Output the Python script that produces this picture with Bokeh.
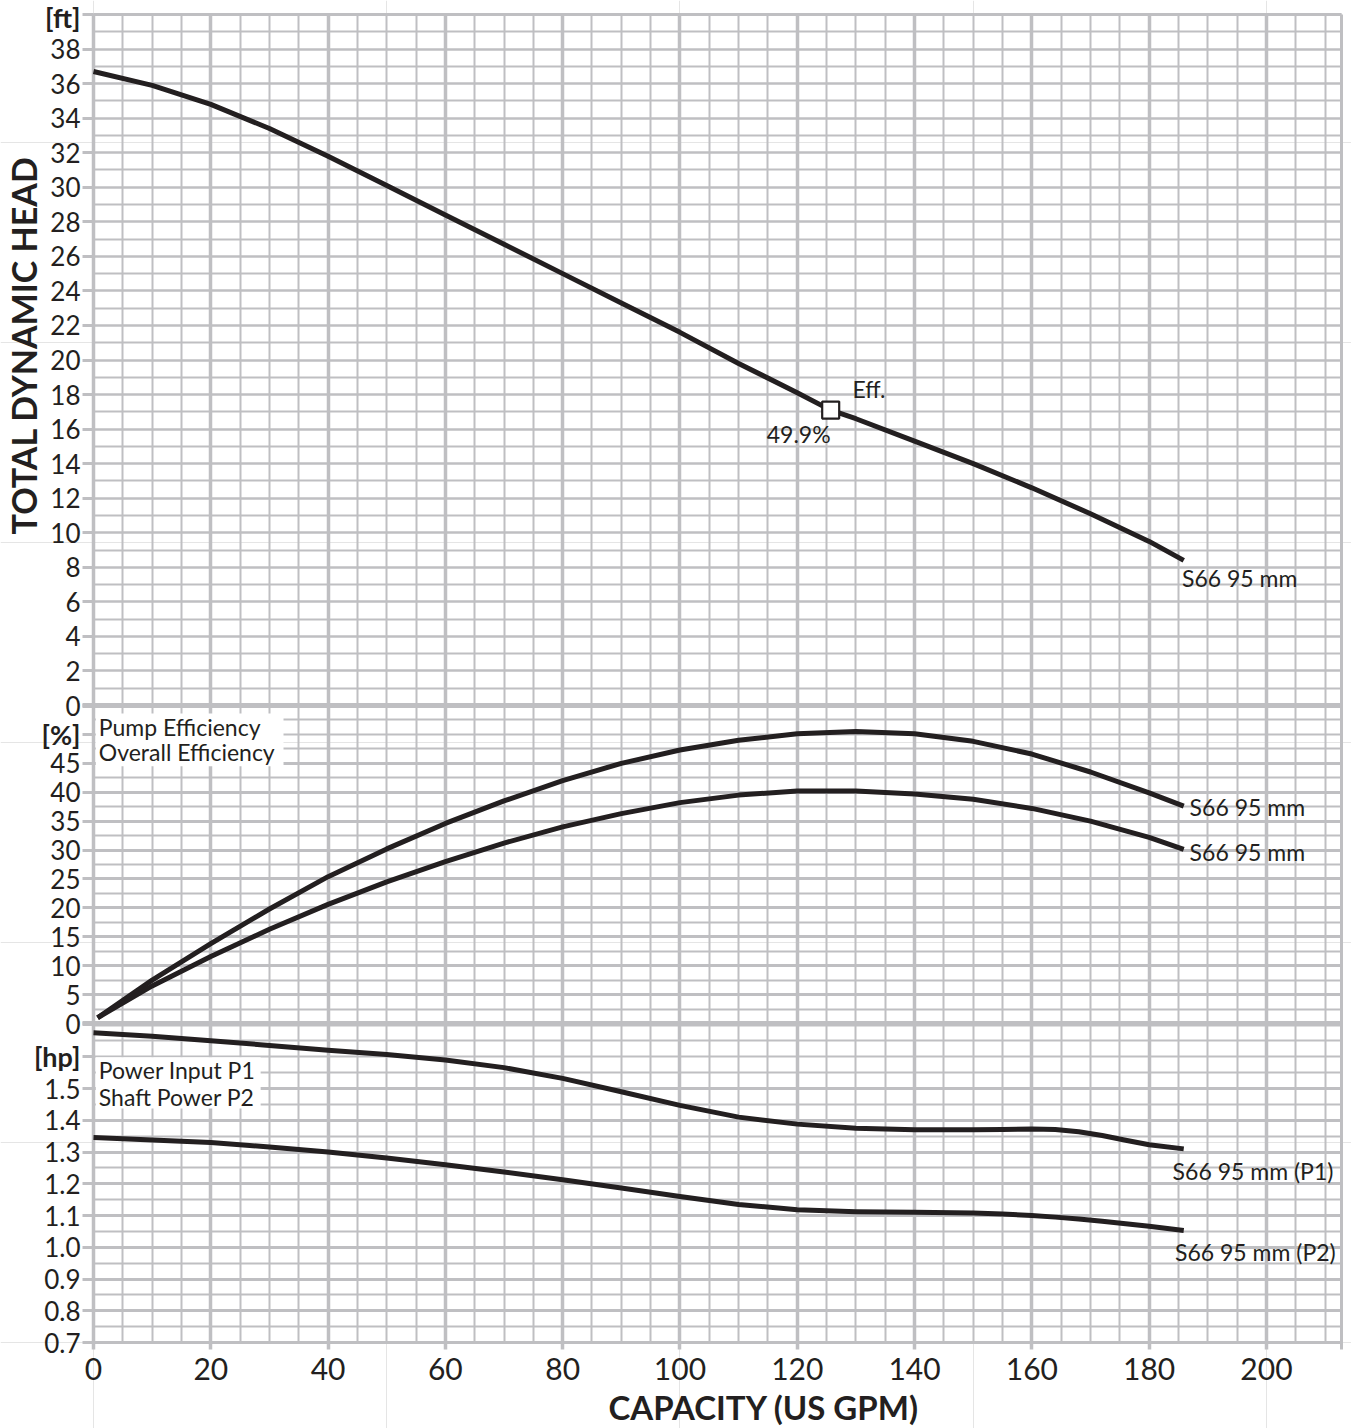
import math
from bokeh.plotting import figure
from bokeh.models import (Range1d, LinearAxis, FixedTicker, Grid, Label,
                          BoxAnnotation, CustomJSTickFormatter)
from bokeh.embed import file_html
from bokeh.resources import INLINE

# ---------------- data ----------------
q_head = [0, 10, 20, 30, 40, 50, 60, 70, 80, 90, 100, 110, 120, 125.7, 130, 140, 150, 160, 170, 180, 185.9]
head_ft = [36.7, 35.9, 34.8, 33.4, 31.8, 30.1, 28.4, 26.7, 25.0, 23.3, 21.6, 19.8, 18.1, 17.1, 16.6, 15.3, 14.0, 12.6, 11.1, 9.5, 8.4]

q_eff = [0.7, 10, 20, 30, 40, 50, 60, 70, 80, 90, 100, 110, 120, 130, 140, 150, 160, 170, 180, 185.9]
eff_pump = [1.0, 7.5, 13.8, 19.8, 25.4, 30.2, 34.6, 38.5, 42.0, 45.0, 47.3, 49.0, 50.1, 50.5, 50.1, 48.8, 46.6, 43.5, 39.9, 37.6]
eff_overall = [1.0, 6.5, 11.6, 16.3, 20.6, 24.5, 28.0, 31.2, 34.0, 36.3, 38.2, 39.5, 40.2, 40.2, 39.7, 38.8, 37.2, 35.0, 32.2, 30.1]

q_pow = [0, 10, 20, 30, 40, 50, 60, 70, 80, 90, 100, 110, 120, 130, 140, 150, 155, 160, 164, 168, 172, 176, 180, 185.9]
power_p1 = [1.676, 1.665, 1.651, 1.636, 1.621, 1.607, 1.590, 1.566, 1.532, 1.490, 1.447, 1.410, 1.388, 1.375, 1.370, 1.370, 1.371, 1.373, 1.371, 1.364, 1.352, 1.337, 1.323, 1.310]
power_p2 = [1.346, 1.338, 1.330, 1.316, 1.300, 1.281, 1.260, 1.237, 1.213, 1.187, 1.160, 1.135, 1.118, 1.112, 1.110, 1.108, 1.105, 1.100, 1.095, 1.089, 1.082, 1.074, 1.066, 1.053]

bep_q = [125.7]
bep_head = [17.1]
bep_text = "49.9%"

x_ticks = [0, 20, 40, 60, 80, 100, 120, 140, 160, 180, 200]
x_minor = [v * 5 for v in range(0, 43)]
ft_ticks = list(range(0, 39, 2))
ft_minor = list(range(0, 41))
pct_ticks = list(range(0, 46, 5))
pct_minor = [v * 2.5 for v in range(0, 23)]
hp_ticks = [0.7, 0.8, 0.9, 1.0, 1.1, 1.2, 1.3, 1.4, 1.5]
hp_minor = [round(0.7 + 0.05 * v, 2) for v in range(0, 21)]
hp_labels = ["0.7", "0.8", "0.9", "1.0", "1.1", "1.2", "1.3", "1.4", "1.5"]
unit_labels = ["[ft]", "[%]", "[hp]"]
unit_values = [40, 50, 1.6]
x_title = "CAPACITY (US GPM)"
y_title = "TOTAL DYNAMIC HEAD"

FT_RANGE = (0.0, 40.0)
PCT_RANGE = (0.0, 55.0)
HP_RANGE = (0.7, 1.705)
X_MAX = 212.8

# ---------------- layout ----------------
H_TOP, H_MID, H_BOT = 691, 318, 319      # panel heights, px
PLOT_H = H_TOP + H_MID + H_BOT
PLOT_W = 1248
LEFT_PX, RIGHT_PX, TOP_PX, BOTTOM_PX = 93, 10, 14, 86   # room inside the frame for axis texts
XPP = X_MAX / PLOT_W
GREY = "#bfbfc2"
INK = "#231f20"
FONT = "Lato"
X_SPAN = (0, X_MAX)


def ext_range(rng, below_px, h_px, above_px):
    per = (rng[1] - rng[0]) / h_px
    return Range1d(rng[0] - below_px * per, rng[1] + above_px * per)


def to_main(v, rng, base, h):
    return base + (v - rng[0]) / (rng[1] - rng[0]) * h


def lookup_formatter(pos, labs):
    return CustomJSTickFormatter(args=dict(pos=pos, labs=labs), code="""
    for (let i = 0; i < pos.length; i++) { if (Math.abs(pos[i] - tick) < 1e-6) return labs[i]; }
    return "";
""")


p = figure(frame_width=LEFT_PX + PLOT_W + RIGHT_PX, frame_height=TOP_PX + PLOT_H + BOTTOM_PX,
           x_range=Range1d(-LEFT_PX * XPP, X_MAX + RIGHT_PX * XPP),
           y_range=Range1d(-BOTTOM_PX, PLOT_H + TOP_PX),
           x_axis_location=None, y_axis_location=None,
           output_backend="svg", toolbar_location=None,
           min_border_left=0, min_border_right=0, min_border_top=0, min_border_bottom=0)
p.extra_y_ranges = {
    "ft": ext_range(FT_RANGE, BOTTOM_PX + H_BOT + H_MID, H_TOP, TOP_PX),
    "pct": ext_range(PCT_RANGE, BOTTOM_PX + H_BOT, H_MID, H_TOP + TOP_PX),
    "hp": ext_range(HP_RANGE, BOTTOM_PX, H_BOT, H_MID + H_TOP + TOP_PX),
}
p.background_fill_color = "white"
p.border_fill_color = "white"
p.outline_line_color = None

# vertical grid: minor every 5, major every 20, right border
p.add_layout(Grid(dimension=0, ticker=FixedTicker(ticks=x_minor), cross_bounds=(0, PLOT_H),
                  grid_line_color=GREY, grid_line_width=2))
p.add_layout(Grid(dimension=0, ticker=FixedTicker(ticks=x_ticks), cross_bounds=(0, PLOT_H),
                  grid_line_color=GREY, grid_line_width=3.5))
p.add_layout(Grid(dimension=0, ticker=FixedTicker(ticks=[X_MAX]), cross_bounds=(-7, PLOT_H),
                  grid_line_color=GREY, grid_line_width=3))
# horizontal grids per panel
for name, major, minor, wmaj in (("ft", ft_ticks, ft_minor, 2.2),
                                 ("pct", pct_ticks, pct_minor, 2.8),
                                 ("hp", hp_ticks, hp_minor, 2.8)):
    p.add_layout(Grid(dimension=1, y_range_name=name, cross_bounds=X_SPAN,
                      ticker=FixedTicker(ticks=major, minor_ticks=minor),
                      grid_line_color=GREY, grid_line_width=wmaj,
                      minor_grid_line_color=GREY, minor_grid_line_width=1.8))
# panel separators (reach out like ticks)
for name in ("ft", "pct"):
    p.add_layout(Grid(dimension=1, y_range_name=name, ticker=FixedTicker(ticks=[0]),
                      cross_bounds=(-11 * XPP, X_MAX),
                      grid_line_color=GREY, grid_line_width=5))
# top and bottom borders
p.add_layout(Grid(dimension=1, ticker=FixedTicker(ticks=[0, PLOT_H]), cross_bounds=X_SPAN,
                  grid_line_color=GREY, grid_line_width=3))

# ---------------- axes ----------------
base_pct = H_BOT
base_ft = H_BOT + H_MID
y_pos, y_lab = [], []
for v, s in zip(hp_ticks, hp_labels):
    y_pos.append(to_main(v, HP_RANGE, 0, H_BOT)); y_lab.append(s)
for v in pct_ticks:
    y_pos.append(to_main(v, PCT_RANGE, base_pct, H_MID)); y_lab.append(str(v))
for v in ft_ticks:
    y_pos.append(to_main(v, FT_RANGE, base_ft, H_TOP)); y_lab.append(str(v))
u_pos = [to_main(unit_values[0], FT_RANGE, base_ft, H_TOP),
         to_main(unit_values[1], PCT_RANGE, base_pct, H_MID),
         to_main(unit_values[2], HP_RANGE, 0, H_BOT)]

yaxis = LinearAxis(ticker=FixedTicker(ticks=y_pos + u_pos),
                   formatter=lookup_formatter(y_pos, y_lab), fixed_location=0)
yaxis.axis_line_color = None
yaxis.major_tick_out = 11
yaxis.major_tick_in = 0
yaxis.major_tick_line_color = GREY
yaxis.major_tick_line_width = 3
yaxis.minor_tick_line_color = None
yaxis.major_label_standoff = 2
yaxis.major_label_text_font = FONT
yaxis.major_label_text_font_size = "26px"
yaxis.major_label_text_color = INK
p.add_layout(yaxis, "left")

xaxis = LinearAxis(ticker=FixedTicker(ticks=x_ticks), fixed_location=0)
xaxis.axis_line_color = None
xaxis.major_tick_out = 7
xaxis.major_tick_in = 0
xaxis.major_tick_line_color = GREY
xaxis.major_tick_line_width = 3.5
xaxis.minor_tick_line_color = None
xaxis.major_label_standoff = 8
xaxis.major_label_text_font = FONT
xaxis.major_label_text_font_size = "30px"
xaxis.major_label_text_color = INK
p.add_layout(xaxis, "below")

p.add_layout(Label(x=(608 - 93) * XPP, y=-64, text=x_title, text_align="left",
                   text_baseline="middle", text_font=FONT, text_font_size="33px",
                   text_font_style="bold", text_color=INK))
p.add_layout(Label(x=-70 * XPP, y=20.85, y_range_name="ft", angle=math.pi / 2,
                   text=y_title, text_align="center", text_baseline="middle",
                   text_font=FONT, text_font_size="34px", text_font_style="bold", text_color=INK))
for s, rng_name, yv in zip(unit_labels, ("ft", "pct", "hp"), (39.85, 50, 1.6)):
    p.add_layout(Label(x=0, y=yv, y_range_name=rng_name, x_offset=-13, text=s,
                       text_align="right", text_baseline="middle", text_font=FONT,
                       text_font_size="27px", text_font_style="bold", text_color=INK))

# legend boxes
p.add_layout(BoxAnnotation(left=0.4, right=32.4, bottom=44.5, top=53.6, y_range_name="pct",
                           fill_color="white", fill_alpha=1, line_color=None))
p.add_layout(BoxAnnotation(left=0.4, right=28.5, bottom=1.437, top=1.599, y_range_name="hp",
                           fill_color="white", fill_alpha=1, line_color=None))

# ---------------- curves ----------------
LW = 5
p.line(q_head, head_ft, y_range_name="ft", line_width=LW, line_color=INK, line_join="round")
p.line(q_eff, eff_pump, y_range_name="pct", line_width=LW, line_color=INK, line_join="round")
p.line(q_eff, eff_overall, y_range_name="pct", line_width=LW, line_color=INK, line_join="round")
p.line(q_pow, power_p1, y_range_name="hp", line_width=LW, line_color=INK, line_join="round")
p.line(q_pow, power_p2, y_range_name="hp", line_width=LW, line_color=INK, line_join="round")
p.scatter(bep_q, bep_head, y_range_name="ft", marker="square", size=17,
          fill_color="white", line_color=INK, line_width=2.2)


def txt(x, y, rng, s, align="left"):
    p.add_layout(Label(x=x, y=y, y_range_name=rng, text=s, text_align=align,
                       text_baseline="middle", text_font=FONT, text_font_size="23px",
                       text_color=INK))


txt(185.6, 7.4, "ft", "S66 95 mm")
txt(129.4, 18.3, "ft", "Eff.")
txt(114.8, 15.7, "ft", bep_text)
txt(186.9, 37.5, "pct", "S66 95 mm")
txt(186.9, 29.7, "pct", "S66 95 mm")
txt(184.0, 1.239, "hp", "S66 95 mm (P1)")
txt(184.4, 0.986, "hp", "S66 95 mm (P2)")
txt(0.9, 51.3, "pct", "Pump Efficiency")
txt(0.9, 46.9, "pct", "Overall Efficiency")
txt(0.9, 1.558, "hp", "Power Input P1")
txt(0.9, 1.473, "hp", "Shaft Power P2")

open("out.html", "w").write(file_html(p, INLINE))
